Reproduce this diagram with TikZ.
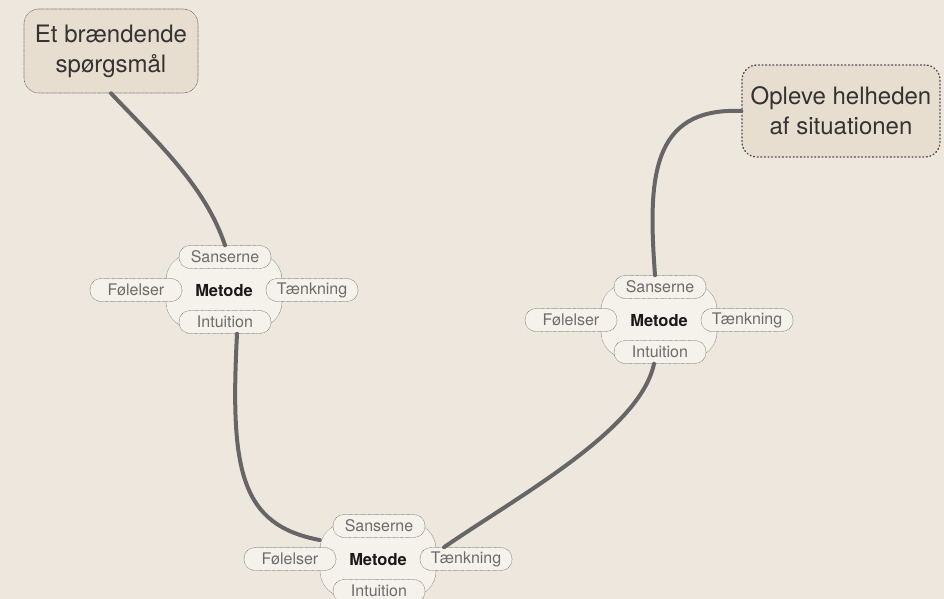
\documentclass[tikz,border=0pt]{standalone}
\usepackage{fontspec}
\setmainfont{TeX Gyre Heros}
\definecolor{paper}{RGB}{238,231,222}
\definecolor{topicfill}{RGB}{231,222,208}
\definecolor{pillfill}{RGB}{245,241,235}
\definecolor{wire}{RGB}{102,102,102}
\definecolor{pilltext}{RGB}{108,108,108}
\begin{document}
\begin{tikzpicture}[x=1pt, y=-1pt, line cap=round, line join=round]
	\tikzset{topic/.style={fill=topicfill, draw=black!60, rounded corners=15pt, line width=0.6pt, dash pattern=on 0.4pt off 0.9pt, align=center, text=black!80, font=\fontsize{24}{30}\selectfont},
		blob/.style={fill=pillfill, draw=black!55, rounded corners=26pt, line width=0.5pt, dash pattern=on 0.4pt off 0.9pt, minimum width=116pt, minimum height=74pt, text=black!90, font=\fontsize{16.5}{18}\selectfont\bfseries},
		pill/.style={fill=pillfill, draw=black!55, rounded corners=11pt, line width=0.5pt, dash pattern=on 0.4pt off 0.9pt, minimum width=92pt, minimum height=23pt, inner sep=0pt, text=pilltext, font=\fontsize{16}{18}\selectfont},
		wire/.style={draw=wire, line width=4pt}}
	\useasboundingbox[fill=paper] (0,0) rectangle (944,599);
	% the two questions
	\node[topic, minimum width=174pt, minimum height=84pt] (q1) at (111,51) {Et brændende\\spørgsmål};
	\node[topic, minimum width=198pt, minimum height=92pt, draw=black!70, dash pattern=on 1pt off 2.6pt, line width=1.3pt] (q2) at (841,111) {Opleve helheden\\af situationen};
	% three method clusters
	\foreach \n/\cx/\cy in {a/224/291, b/659/321, c/378/560}{
		\node[blob] (m\n) at (\cx,\cy) {Metode};
		\node[pill] (s\n) at (\cx+1,\cy-34) {Sanserne};
		\node[pill] (f\n) at (\cx-88,\cy-1) {Følelser};
		\node[pill] (t\n) at (\cx+88,\cy-1) {Tænkning};
		\node[pill] (i\n) at (\cx+1,\cy+31) {Intuition};
	}
	% connections
	\draw[wire] (q1.south) .. controls (155,140) and (205,185) .. (sa.north);
	\draw[wire] ([xshift=12pt]ia.south) .. controls (230,470) and (240,525) .. ([yshift=20pt]mc.west);
	\draw[wire] ([xshift=-22pt]tc.north) .. controls (520,495) and (640,430) .. ([xshift=-6pt]ib.south);
	\draw[wire] ([xshift=-5pt]sb.north) .. controls (648,180) and (650,107) .. (q2.west);
\end{tikzpicture}
\end{document}
